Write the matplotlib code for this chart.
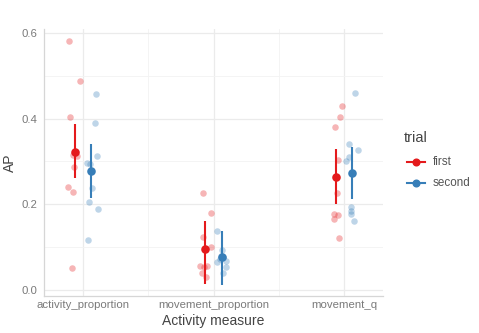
import matplotlib
matplotlib.use("Agg")
import matplotlib.pyplot as plt
from matplotlib.lines import Line2D
from matplotlib.ticker import MultipleLocator

plt.rcParams['font.family'] = ['Liberation Sans', 'DejaVu Sans']

categories = ["activity_proportion", "movement_proportion", "movement_q"]
trials = ["first", "second"]
colors = {"first": "#E41A1C", "second": "#377EB8"}

first_vals = [
    [0.582, 0.488, 0.404, 0.315, 0.313, 0.288, 0.241, 0.229, 0.052],
    [0.226, 0.180, 0.123, 0.100, 0.056, 0.056, 0.054, 0.040, 0.030],
    [0.429, 0.403, 0.381, 0.303, 0.227, 0.177, 0.176, 0.166, 0.122],
]
first_jit = [
    [-0.106, -0.021, -0.101, -0.081, -0.048, -0.071, -0.114, -0.078, -0.086],
    [-0.084, -0.021, -0.081, -0.017, -0.106, -0.048, -0.070, -0.089, -0.059],
    [-0.017, -0.033, -0.068, -0.046, -0.056, -0.076, -0.043, -0.076, -0.041],
]
second_vals = [
    [0.458, 0.390, 0.313, 0.296, 0.294, 0.238, 0.205, 0.190, 0.117],
    [0.138, 0.093, 0.080, 0.078, 0.073, 0.066, 0.068, 0.054, 0.040],
    [0.460, 0.341, 0.327, 0.310, 0.302, 0.193, 0.185, 0.177, 0.161],
]
second_jit = [
    [0.101, 0.089, 0.106, 0.033, 0.053, 0.071, 0.048, 0.112, 0.036],
    [0.028, 0.066, 0.060, 0.070, 0.050, 0.025, 0.097, 0.097, 0.071],
    [0.089, 0.043, 0.106, 0.036, 0.015, 0.051, 0.055, 0.056, 0.081],
]
# summary: mean and interval bounds
first_mean = [0.323, 0.096, 0.264]
first_low = [0.261, 0.014, 0.201]
first_high = [0.387, 0.160, 0.328]
second_mean = [0.277, 0.076, 0.273]
second_low = [0.214, 0.012, 0.212]
second_high = [0.340, 0.138, 0.334]

W, H = 479, 333
fig = plt.figure(figsize=(W / 100, H / 100), dpi=100)
ax = fig.add_axes([44 / W, 1 - 296 / H, 339 / W, 267 / H])

raw = {"first": (first_vals, first_jit), "second": (second_vals, second_jit)}
summ = {"first": (first_mean, first_low, first_high),
        "second": (second_mean, second_low, second_high)}
dodge = {"first": -0.0625, "second": 0.0625}

for t in trials:
    vals, jit = raw[t]
    for i in range(len(categories)):
        xs = [i + 1 + j for j in jit[i]]
        ax.scatter(xs, vals[i], s=22, color=colors[t], alpha=0.32,
                   linewidths=0, zorder=2)
for t in trials:
    m, lo, hi = summ[t]
    for i in range(len(categories)):
        x = i + 1 + dodge[t]
        ax.plot([x, x], [lo[i], hi[i]], color=colors[t], lw=1.5,
                solid_capstyle='butt', zorder=3)
        ax.scatter([x], [m[i]], s=38, color=colors[t], linewidths=0, zorder=4)

ax.set_xlim(0.7, 3.3)
ax.set_ylim(-0.014, 0.609)
ax.set_xticks([1, 2, 3])
ax.set_xticklabels(categories)
ax.xaxis.set_minor_locator(MultipleLocator(0.5))
ax.set_yticks([0.0, 0.2, 0.4, 0.6])
ax.set_yticklabels(["0.0", "0.2", "0.4", "0.6"])
ax.yaxis.set_minor_locator(MultipleLocator(0.1))

ax.grid(True, which='major', color='#EBEBEB', lw=0.9, zorder=0)
ax.grid(True, which='minor', color='#F3F3F3', lw=0.6, zorder=0)
ax.set_axisbelow(True)
for s in ['top', 'right']:
    ax.spines[s].set_visible(False)
for s in ['left', 'bottom']:
    ax.spines[s].set_color('#D6D6D6')
    ax.spines[s].set_linewidth(0.9)
ax.tick_params(which='both', length=0, colors='#7A7A7A', labelsize=8.2, pad=3)
ax.tick_params(axis='y', pad=5)

ax.set_xlabel("Activity measure", fontsize=10, color='#444444', labelpad=3)
ax.set_ylabel("AP", fontsize=10, color='#444444', labelpad=3)

# legend drawn in figure pixel coordinates
def fx(px):
    return px / W

def fy(py):
    return 1 - py / H

fig.text(fx(404), fy(138), "trial", fontsize=10.5, color='#444444',
         ha='left', va='center')
for t, py in zip(trials, [162, 183]):
    fig.add_artist(Line2D([fx(407), fx(425)], [fy(py), fy(py)],
                          color=colors[t], lw=1.5, transform=fig.transFigure))
    fig.add_artist(Line2D([fx(416)], [fy(py)], color=colors[t], marker='o',
                          ms=4.8, lw=0, transform=fig.transFigure))
    fig.text(fx(433), fy(py), t, fontsize=8.4, color='#555555',
             ha='left', va='center')

fig.savefig("out.png", dpi=100)
